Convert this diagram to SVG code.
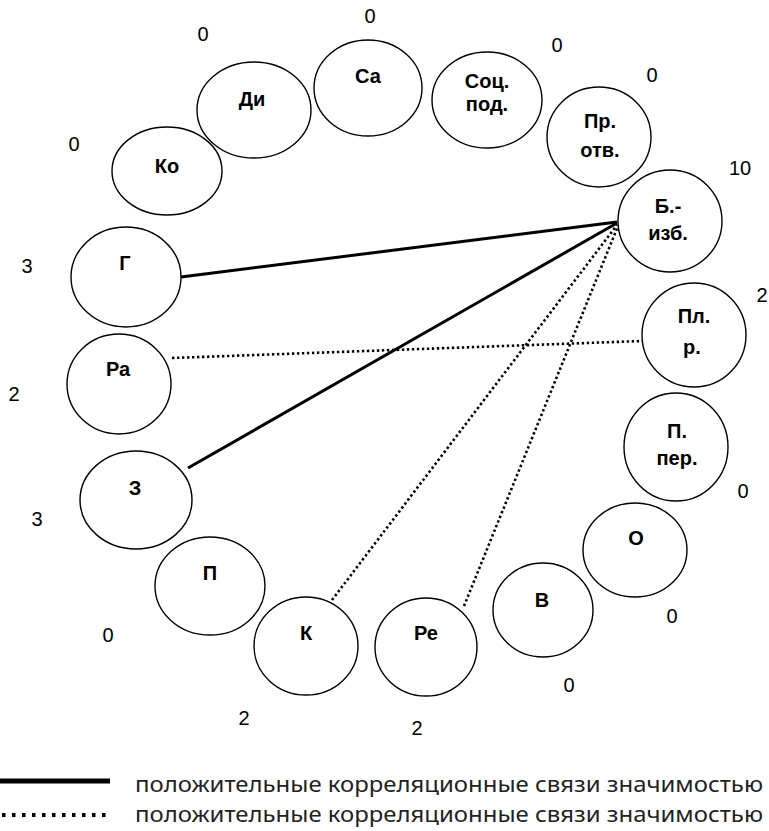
<svg xmlns="http://www.w3.org/2000/svg" width="769" height="831" viewBox="0 0 769 831">
<style>
.n ellipse{fill:#fff;stroke:#000;stroke-width:1.4}
.l{font-family:"Liberation Sans",Arial,sans-serif;font-weight:bold;font-size:20px;fill:#000;text-anchor:middle}
.v{font-family:"Liberation Sans",Arial,sans-serif;font-size:20px;fill:#000;text-anchor:middle}
.s{stroke:#000;stroke-width:3;fill:none}
.d{stroke:#000;stroke-width:2.6;fill:none;stroke-dasharray:2.4 2.6}
.lg{font-family:"Noto Sans","Open Sans",sans-serif;font-size:22px;fill:#222}
</style>
<g id="connectors">
<line class="s" x1="181" y1="277" x2="617" y2="222"/>
<line class="s" x1="188" y1="468" x2="617" y2="223"/>
<line class="d" x1="172" y1="358" x2="642" y2="341"/>
<line class="d" x1="332" y1="600" x2="617" y2="225"/>
<line class="d" x1="464" y1="606" x2="618" y2="226"/>
</g>
<g id="node-ca" class="n"><ellipse cx="368" cy="88" rx="54" ry="48"/><text class="l" x="368" y="83">Са</text><text class="v" x="370" y="23">0</text></g>
<g id="node-di" class="n"><ellipse cx="254" cy="110" rx="57" ry="48"/><text class="l" x="252" y="106">Ди</text><text class="v" x="203" y="41">0</text></g>
<g id="node-ko" class="n"><ellipse cx="167" cy="171" rx="55" ry="44"/><text class="l" x="167" y="173">Ко</text><text class="v" x="74" y="151">0</text></g>
<g id="node-soc" class="n"><ellipse cx="487" cy="100" rx="55" ry="48"/><text class="l" x="487" y="88">Соц.</text><text class="l" x="487" y="111">под.</text><text class="v" x="557" y="52">0</text></g>
<g id="node-pr" class="n"><ellipse cx="599" cy="137" rx="52" ry="50"/><text class="l" x="600" y="128">Пр.</text><text class="l" x="600" y="157">отв.</text><text class="v" x="652" y="82">0</text></g>
<g id="node-b" class="n"><ellipse cx="670" cy="221" rx="52" ry="51"/><text class="l" x="668" y="213">Б.-</text><text class="l" x="668" y="240">изб.</text><text class="v" x="740" y="175">10</text></g>
<g id="node-pl" class="n"><ellipse cx="694" cy="335" rx="52" ry="52"/><text class="l" x="694" y="323">Пл.</text><text class="l" x="692" y="354">р.</text><text class="v" x="762" y="302">2</text></g>
<g id="node-pper" class="n"><ellipse cx="676" cy="447" rx="52" ry="54"/><text class="l" x="677" y="438">П.</text><text class="l" x="677" y="465">пер.</text><text class="v" x="743" y="498">0</text></g>
<g id="node-o" class="n"><ellipse cx="635" cy="550" rx="52" ry="47"/><text class="l" x="636" y="545">О</text><text class="v" x="672" y="623">0</text></g>
<g id="node-v" class="n"><ellipse cx="543" cy="610" rx="50" ry="47"/><text class="l" x="542" y="607">В</text><text class="v" x="569" y="692">0</text></g>
<g id="node-re" class="n"><ellipse cx="426" cy="647" rx="51" ry="49"/><text class="l" x="426" y="640">Ре</text><text class="v" x="417" y="735">2</text></g>
<g id="node-k" class="n"><ellipse cx="306" cy="646" rx="52" ry="49"/><text class="l" x="306" y="640">К</text><text class="v" x="244" y="725">2</text></g>
<g id="node-p" class="n"><ellipse cx="210" cy="586" rx="55" ry="49"/><text class="l" x="210" y="580">П</text><text class="v" x="108" y="642">0</text></g>
<g id="node-z" class="n"><ellipse cx="136" cy="500" rx="56" ry="49"/><text class="l" x="135" y="495">З</text><text class="v" x="37" y="526">3</text></g>
<g id="node-ra" class="n"><ellipse cx="119" cy="384" rx="52" ry="50"/><text class="l" x="118" y="376">Ра</text><text class="v" x="14" y="401">2</text></g>
<g id="node-g" class="n"><ellipse cx="126" cy="277" rx="55" ry="50"/><text class="l" x="125" y="270">Г</text><text class="v" x="27" y="273">3</text></g>
<g id="legend">
<line x1="0" y1="781" x2="110" y2="781" stroke="#000" stroke-width="5"/>
<line x1="2" y1="815" x2="110" y2="815" stroke="#000" stroke-width="4" stroke-dasharray="3.5 6.5"/>
<text class="lg" x="135" y="792" textLength="628" lengthAdjust="spacingAndGlyphs">положительные корреляционные связи значимостью</text>
<text class="lg" x="135" y="822" textLength="628" lengthAdjust="spacingAndGlyphs">положительные корреляционные связи значимостью</text>
</g>
</svg>
